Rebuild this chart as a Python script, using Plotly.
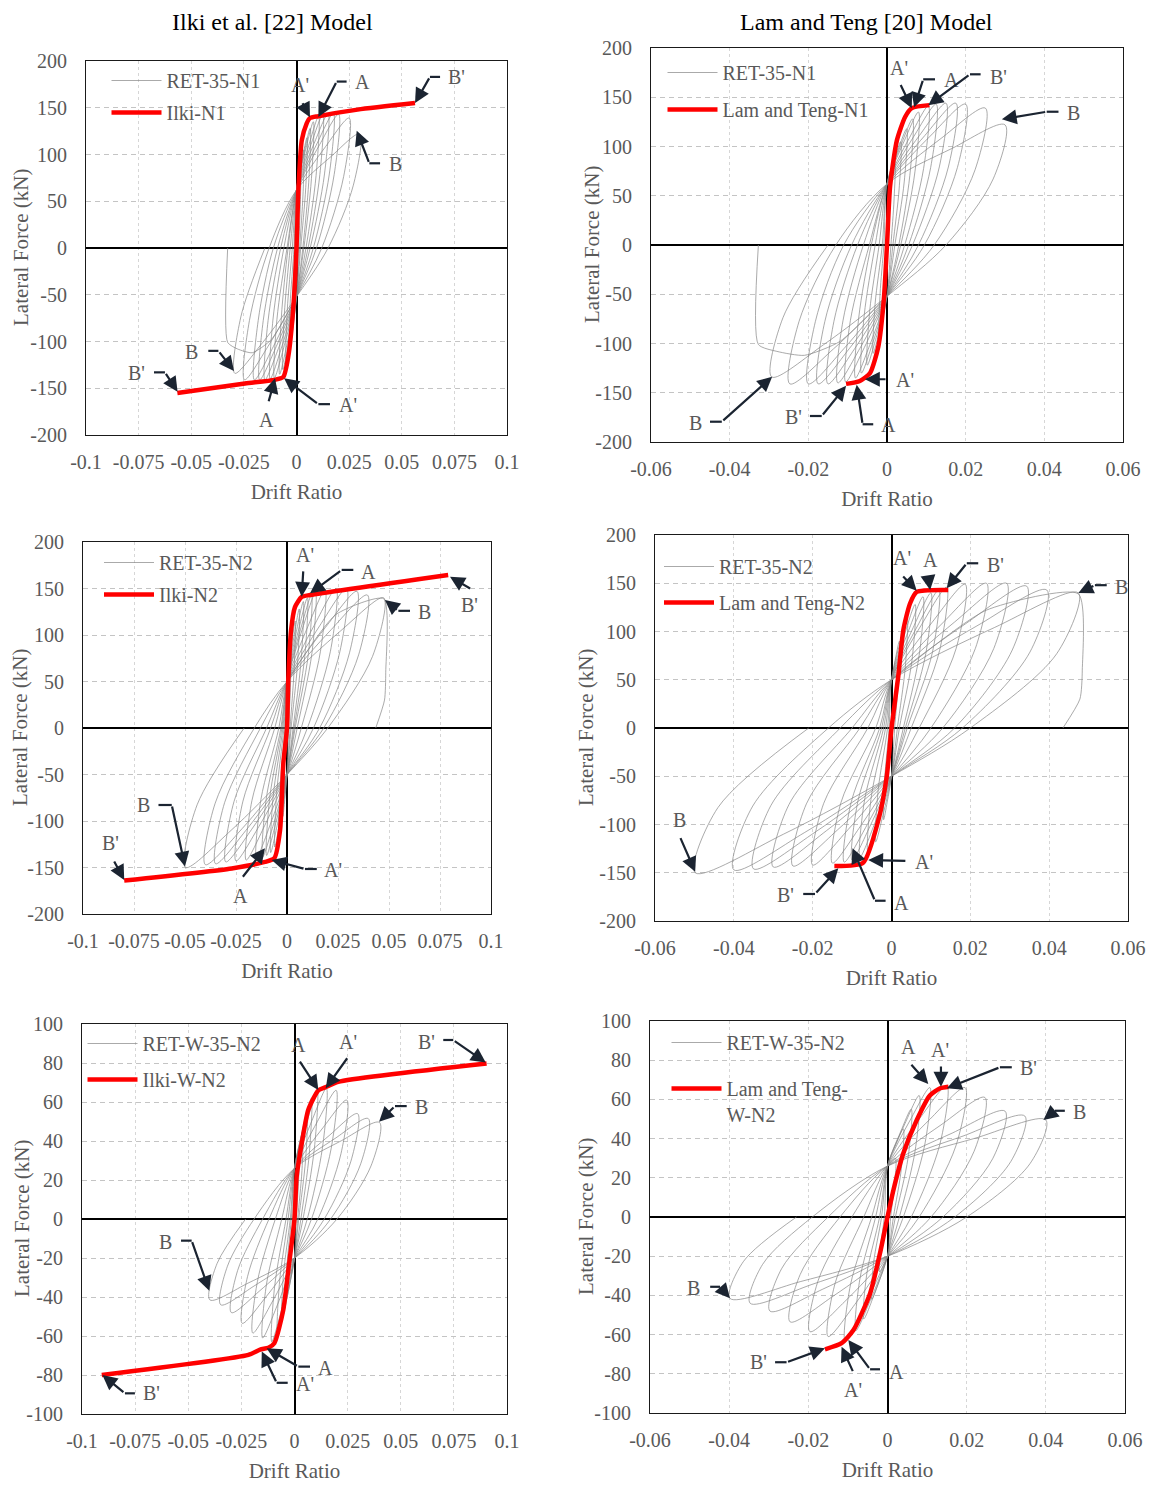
import plotly.graph_objects as go

W, H = 1153, 1486
FONT = "Liberation Serif"
GRAY_TXT = "#595959"
ARROW = "#1b2431"

# ---------------- experimental data (key points of each cycle) ----------------
# RET-35-N1 (panels 1 and 2)
n1_pos_drift = [0.002, 0.0035, 0.005, 0.0065, 0.008, 0.0105, 0.0125, 0.015, 0.0175, 0.020, 0.025, 0.030]
n1_pos_force = [85, 105, 118, 128, 135, 141, 143, 144, 144, 143, 139, 122]
n1_pos_zero = [0.001, 0.0015, 0.002, 0.003, 0.0035, 0.0045, 0.0055, 0.0065, 0.008, 0.0095, 0.012, 0.015]
n1_neg_drift = [-0.002, -0.0035, -0.005, -0.0065, -0.008, -0.0105, -0.0125, -0.015, -0.0175, -0.020, -0.0247, -0.0293]
n1_neg_force = [-90, -110, -122, -130, -135, -139, -140, -141, -141, -141, -141, -134]
n1_neg_zero = [-0.0008, -0.0012, -0.002, -0.003, -0.004, -0.0045, -0.006, -0.0075, -0.009, -0.011, -0.013, -0.015]
n1_pinch = [62, -52]
n1_tail_drift = [0.0, -0.012, -0.021, -0.028, -0.0327, -0.0327]
n1_tail_force = [-52, -98, -112, -108, -101, 0]

# RET-35-N2 (panels 3 and 4)
n2_pos_drift = [0.002, 0.004, 0.006, 0.008, 0.010, 0.012, 0.014, 0.0187, 0.0241, 0.0292, 0.0343, 0.0394, 0.0474]
n2_pos_force = [90, 115, 128, 136, 140, 143, 146, 149, 150, 150, 147, 143, 140]
n2_pos_zero = [0.0008, 0.0015, 0.002, 0.003, 0.0035, 0.004, 0.005, 0.007, 0.010, 0.013, 0.016, 0.018, 0.020]
n2_neg_drift = [-0.002, -0.004, -0.006, -0.008, -0.010, -0.012, -0.015, -0.020, -0.025, -0.030, -0.035, -0.040, -0.0498]
n2_neg_force = [-95, -118, -128, -134, -137, -139, -140, -142, -143, -144, -146, -147, -150]
n2_neg_zero = [-0.0006, -0.001, -0.0015, -0.002, -0.0025, -0.003, -0.004, -0.006, -0.008, -0.010, -0.013, -0.016, -0.021]
n2_pinch = [50, -50]
n2_tail_drift = [0.0, 0.024, 0.0474, 0.0484, 0.0478, 0.0435]
n2_tail_force = [50, 122, 139, 60, 30, 0]

# RET-W-35-N2 (panels 5 and 6)
w2_pos_drift = [0.002, 0.004, 0.006, 0.008, 0.0107, 0.015, 0.0196, 0.0246, 0.0297, 0.0347, 0.040]
w2_pos_force = [30, 45, 55, 62, 66, 67, 66, 61, 54, 51.5, 49.5]
w2_pos_zero = [0.0008, 0.0015, 0.002, 0.003, 0.004, 0.006, 0.008, 0.011, 0.014, 0.017, 0.020]
w2_neg_drift = [-0.002, -0.004, -0.006, -0.008, -0.0107, -0.015, -0.0196, -0.0246, -0.0297, -0.0347, -0.0398]
w2_neg_force = [-28, -42, -52, -58, -63, -61, -58.5, -53.5, -48, -44, -41.5]
w2_neg_zero = [-0.0008, -0.0015, -0.002, -0.003, -0.004, -0.006, -0.009, -0.012, -0.015, -0.019, -0.023]
w2_pinch = [26, -20]
w2_tail_drift = []
w2_tail_force = []

# ---------------- model curves ----------------
ilki_n1_drift = [-0.0566, -0.0245, -0.0105, -0.0063, -0.0039, -0.0015, 0.0, 0.0009, 0.0025, 0.0048, 0.0064, 0.0104, 0.029, 0.0563]
ilki_n1_force = [-155, -145, -141, -138, -116, -63, 0, 62, 115, 133, 139, 141, 148, 155]

lt_n1_drift = [-0.0104, -0.0069, -0.0043, -0.0022, -0.0008, 0.0, 0.0008, 0.0025, 0.0046, 0.0063, 0.0108]
lt_n1_force = [-141, -138, -130, -103, -55, 0, 60, 106, 130, 139, 142]

ilki_n2_drift = [-0.0798, -0.0271, -0.0108, -0.0062, -0.0034, -0.0018, 0.0, 0.0006, 0.002, 0.0039, 0.0072, 0.0113, 0.079]
ilki_n2_force = [-164, -151, -144, -140, -110, -38, 0, 50, 105, 130, 141, 143, 164.5]

lt_n2_drift = [-0.0145, -0.0072, -0.0033, -0.0012, 0.0, 0.0017, 0.003, 0.0047, 0.0064, 0.0144]
lt_n2_force = [-143, -139.6, -95, -50, 0, 53, 101.5, 129, 141, 143]

ilki_w2_drift = [-0.0907, -0.0217, -0.0162, -0.0123, -0.0095, -0.0053, -0.0029, 0.0, 0.001, 0.0034, 0.0065, 0.0112, 0.0144, 0.0206, 0.0904]
ilki_w2_force = [-80, -69.7, -67, -66, -63.7, -46.7, -26, 0, 21.7, 38.8, 56, 66, 67.5, 70.4, 79.8]

lt_w2_drift = [-0.0158, -0.0116, -0.0086, -0.0044, -0.0019, 0.0, 0.0015, 0.004, 0.0074, 0.0107, 0.0133, 0.0154]
lt_w2_force = [-67.5, -64.4, -57.7, -39, -18.5, 0, 13.8, 32.5, 49.5, 62, 65.7, 66.5]

# ---------------- tick labels ----------------
ilki_xticks = [-0.1, -0.075, -0.05, -0.025, 0, 0.025, 0.05, 0.075, 0.1]
ilki_xtext = ["-0.1", "-0.075", "-0.05", "-0.025", "0", "0.025", "0.05", "0.075", "0.1"]
lt_xticks = [-0.06, -0.04, -0.02, 0, 0.02, 0.04, 0.06]
lt_xtext = ["-0.06", "-0.04", "-0.02", "0", "0.02", "0.04", "0.06"]
y200_ticks = [-200, -150, -100, -50, 0, 50, 100, 150, 200]
y100_ticks = [-100, -80, -60, -40, -20, 0, 20, 40, 60, 80, 100]

# ---------------- annotation labels (label, text x, text y, stub x0, stub x1, stub y, tip x, tip y) ----------------
labels_1 = [("A'", 0.0017, 174, 0.0025, 0.0025, 156.5, 0.0064, 139.8),
            ("A", 0.0314, 178, 0.0238, 0.0191, 178, 0.0104, 140),
            ("B'", 0.0761, 183, 0.0682, 0.0634, 183, 0.0563, 155),
            ("B", 0.0468, 90, 0.0397, 0.0346, 90.6, 0.0286, 125.5),
            ("B", -0.0498, -111, -0.0419, -0.0371, -110, -0.0297, -131.5),
            ("B'", -0.0762, -134, -0.0677, -0.0625, -133, -0.0565, -153.7),
            ("A", -0.0142, -184, -0.0134, -0.0134, -165.5, -0.0102, -139.4),
            ("A'", 0.0246, -168, 0.0159, 0.0104, -167, -0.0059, -139.4)]
labels_2 = [("A'", 0.0031, 179.4, 0.0033, 0.0033, 164, 0.0063, 138.8),
            ("A", 0.0164, 167.5, 0.0122, 0.0092, 168.2, 0.0069, 139.8),
            ("B'", 0.0283, 171, 0.0238, 0.0211, 173.3, 0.0105, 142),
            ("B", 0.0474, 133.7, 0.0436, 0.0406, 135.3, 0.0292, 127.6),
            ("A'", 0.0046, -137, 0.0, 0.0, -136.3, -0.0056, -136.3),
            ("A", 0.0003, -182.7, -0.0035, -0.0062, -182, -0.0077, -142),
            ("B'", -0.0238, -174.3, -0.0196, -0.0166, -173.6, -0.0104, -143),
            ("B", -0.0488, -181, -0.045, -0.042, -179.4, -0.0292, -133.7)]
labels_3 = [("A'", 0.0088, 186, 0.008, 0.008, 170, 0.0072, 141),
            ("A", 0.0399, 168, 0.0325, 0.0268, 170, 0.0113, 144.8),
            ("B'", 0.0897, 132, 0.0905, 0.0905, 149, 0.0799, 162.7),
            ("B", 0.0676, 125, 0.0603, 0.0546, 126, 0.048, 137.6),
            ("B", -0.0704, -82.8, -0.063, -0.0565, -82.8, -0.05, -149),
            ("B'", -0.0863, -124, -0.0851, -0.0851, -142, -0.0798, -163.4),
            ("A", -0.023, -181, -0.0222, -0.0222, -161.6, -0.0108, -129.4),
            ("A'", 0.0227, -152.7, 0.0146, 0.0088, -151.6, -0.0075, -142)]
labels_4 = [("A'", 0.0026, 175.8, 0.0026, 0.0026, 158.5, 0.0064, 142.3),
            ("A", 0.010, 174, 0.0093, 0.0093, 156.8, 0.0098, 143),
            ("B'", 0.0263, 169, 0.022, 0.0191, 170.7, 0.014, 144.8),
            ("B", 0.0584, 146.5, 0.0546, 0.0516, 148, 0.0474, 140),
            ("B", -0.0537, -95.3, -0.0537, -0.0537, -112.6, -0.0498, -149),
            ("A'", 0.0083, -138.5, 0.0039, 0.0039, -137.8, -0.0059, -136.8),
            ("A", 0.0026, -181, -0.0015, -0.0042, -179, -0.0099, -124.7),
            ("B'", -0.027, -173, -0.0224, -0.0194, -172, -0.0135, -145.4)]
labels_5 = [("A", 0.0021, 89.2, 0.0021, 0.0021, 81.5, 0.0112, 66.2),
            ("A'", 0.0253, 91, 0.0253, 0.0253, 83.2, 0.0147, 67),
            ("B'", 0.0622, 91, 0.070, 0.0747, 91.8, 0.090, 80.2),
            ("B", 0.0598, 57.6, 0.0528, 0.0473, 57.9, 0.0398, 49.9),
            ("B", -0.0609, -11.6, -0.0534, -0.0484, -11.1, -0.0401, -36.8),
            ("B'", -0.0672, -89.4, -0.0751, -0.0798, -89.4, -0.0904, -80),
            ("A", 0.0144, -76.6, 0.0073, 0.0018, -75.7, -0.0131, -66.3),
            ("A'", 0.0049, -84.6, -0.0032, -0.0084, -84, -0.0154, -68)]
labels_6 = [("A", 0.0053, 86.6, 0.0057, 0.0057, 78.4, 0.0103, 67.9),
            ("A'", 0.0133, 85.2, 0.0135, 0.0135, 77.6, 0.0135, 66.5),
            ("B'", 0.0356, 75.9, 0.0314, 0.0284, 76.4, 0.015, 65.7),
            ("B", 0.0486, 53.7, 0.0448, 0.0423, 54.2, 0.0394, 49.5),
            ("B", -0.0489, -36, -0.0448, -0.0423, -35.6, -0.0398, -41.5),
            ("B'", -0.0326, -73.8, -0.0284, -0.0255, -74.1, -0.0158, -67),
            ("A'", -0.0086, -88.3, -0.0086, -0.0086, -79.4, -0.0116, -66.2),
            ("A", 0.0023, -78.9, -0.0019, -0.0044, -77.7, -0.0099, -62.8)]

# ---------------- panel layout (pixel boxes: left, top, right, bottom) ----------------
panels = [
    dict(box=(86, 61, 507, 435), xr=[-0.1, 0.1], xt=(ilki_xticks, ilki_xtext), yr=[-200, 200], yt=y200_ticks,
         test="RET-35-N1", model="Ilki-N1", exp="n1", md=(ilki_n1_drift, ilki_n1_force), labels=labels_1,
         leg=(106.5, 61), gap=3, ytitle_x=21),
    dict(box=(651, 48, 1123, 442), xr=[-0.06, 0.06], xt=(lt_xticks, lt_xtext), yr=[-200, 200], yt=y200_ticks,
         test="RET-35-N1", model="Lam and Teng-N1", exp="n1", md=(lt_n1_drift, lt_n1_force), labels=labels_2,
         leg=(662.5, 53), gap=8, ytitle_x=592),
    dict(box=(83, 542, 491, 914), xr=[-0.1, 0.1], xt=(ilki_xticks, ilki_xtext), yr=[-200, 200], yt=y200_ticks,
         test="RET-35-N2", model="Ilki-N2", exp="n2", md=(ilki_n2_drift, ilki_n2_force), labels=labels_3,
         leg=(99, 543), gap=3, ytitle_x=20),
    dict(box=(655, 535, 1128, 921), xr=[-0.06, 0.06], xt=(lt_xticks, lt_xtext), yr=[-200, 200], yt=y200_ticks,
         test="RET-35-N2", model="Lam and Teng-N2", exp="n2", md=(lt_n2_drift, lt_n2_force), labels=labels_4,
         leg=(659, 547), gap=7, ytitle_x=586),
    dict(box=(82, 1024, 507, 1414), xr=[-0.1, 0.1], xt=(ilki_xticks, ilki_xtext), yr=[-100, 100], yt=y100_ticks,
         test="RET-W-35-N2", model="Ilki-W-N2", exp="w2", md=(ilki_w2_drift, ilki_w2_force), labels=labels_5,
         leg=(82.5, 1024), gap=7, ytitle_x=22),
    dict(box=(650, 1021, 1125, 1413), xr=[-0.06, 0.06], xt=(lt_xticks, lt_xtext), yr=[-100, 100], yt=y100_ticks,
         test="RET-W-35-N2", model="Lam and Teng-<br>W-N2", exp="w2", md=(lt_w2_drift, lt_w2_force), labels=labels_6,
         leg=(666.5, 1023), gap=17, ytitle_x=586),
]

experiments = {
    "n1": (n1_pos_drift, n1_pos_force, n1_pos_zero, n1_neg_drift, n1_neg_force, n1_neg_zero, n1_pinch, n1_tail_drift, n1_tail_force),
    "n2": (n2_pos_drift, n2_pos_force, n2_pos_zero, n2_neg_drift, n2_neg_force, n2_neg_zero, n2_pinch, n2_tail_drift, n2_tail_force),
    "w2": (w2_pos_drift, w2_pos_force, w2_pos_zero, w2_neg_drift, w2_neg_force, w2_neg_zero, w2_pinch, w2_tail_drift, w2_tail_force),
}


def hysteresis(pd_, pf, pz, nd, nf, nz, pinch):
    """Chain the cycle key points (pinch -> peak -> zero crossing) into one path."""
    ph, pl = pinch
    xs, ys = [], []
    for a, fa, za, b, fb, zb in zip(pd_, pf, pz, nd, nf, nz):
        xs += [0.0, 0.55 * a, a, za + 0.8 * (a - za), za, 0.0, 0.55 * b, b, zb + 0.8 * (b - zb), zb]
        ys += [ph, ph + 0.6 * (fa - ph), fa, 0.55 * fa, 0.0, pl, pl + 0.6 * (fb - pl), fb, 0.55 * fb, 0.0]
    return xs, ys


fig = go.Figure()
annotations = []
shapes = []
layout = {}

for i, p in enumerate(panels, start=1):
    sfx = "" if i == 1 else str(i)
    xa, ya = "x" + sfx, "y" + sfx
    legname = "legend" + sfx
    l, t, r, b = p["box"]
    pd_, pf, pz, nd, nf, nz, pinch, tdr, tfr = experiments[p["exp"]]
    hx, hy = hysteresis(pd_, pf, pz, nd, nf, nz, pinch)

    fig.add_trace(go.Scatter(x=hx, y=hy, mode="lines", name=p["test"], xaxis=xa, yaxis=ya,
                             legend=legname, legendgroup=f"exp{i}",
                             line=dict(color="#858585", width=0.7, shape="spline", smoothing=0.9),
                             hoverinfo="skip"))
    if tdr:
        fig.add_trace(go.Scatter(x=tdr, y=tfr, mode="lines", showlegend=False, xaxis=xa, yaxis=ya,
                                 legend=legname, legendgroup=f"exp{i}",
                                 line=dict(color="#858585", width=0.7, shape="spline", smoothing=0.6),
                                 hoverinfo="skip"))
    fig.add_trace(go.Scatter(x=p["md"][0], y=p["md"][1], mode="lines", name=p["model"], xaxis=xa, yaxis=ya,
                             legend=legname, legendgroup=f"mod{i}",
                             line=dict(color="#ff0000", width=4.5, shape="spline", smoothing=0.6)))

    common = dict(showline=True, mirror=True, linecolor="#1a1a1a", linewidth=1, automargin=False,
                  showgrid=True, gridwidth=1, zeroline=True, zerolinecolor="#000000", zerolinewidth=1.6,
                  ticks="", tickfont=dict(family=FONT, size=20, color=GRAY_TXT), fixedrange=True)
    layout["xaxis" + sfx] = dict(common, domain=[l / W, r / W], anchor=ya, range=p["xr"],
                                 tickmode="array", tickvals=p["xt"][0], ticktext=p["xt"][1],
                                 gridcolor="#d6d6d6", griddash="3px,3px", ticklabelstandoff=9,
                                 title=dict(text="Drift Ratio", font=dict(family=FONT, size=21, color=GRAY_TXT), standoff=12))
    layout["yaxis" + sfx] = dict(common, domain=[1 - b / H, 1 - t / H], anchor=xa, range=p["yr"],
                                 tickmode="array", tickvals=p["yt"], ticktext=[str(v) for v in p["yt"]],
                                 gridcolor="#c4c4c4", griddash="5px,4px", ticklabelstandoff=14)
    # y-axis title placed as rotated text beside the tick labels
    annotations.append(dict(x=p["ytitle_x"] / W, y=1 - ((t + b) / 2) / H, xref="paper", yref="paper",
                            text="Lateral Force (kN)", textangle=-90, showarrow=False,
                            xanchor="center", yanchor="middle",
                            font=dict(family=FONT, size=21, color=GRAY_TXT)))
    lx, ly = p["leg"]
    layout[legname] = dict(x=lx / W, y=1 - ly / H, xanchor="left", yanchor="top", bgcolor="rgba(0,0,0,0)",
                           font=dict(family=FONT, size=20, color=GRAY_TXT), itemwidth=50,
                           tracegroupgap=p["gap"], traceorder="grouped", valign="top")

    for lab, tx, ty, sx0, sx1, sy, px, py in p["labels"]:
        annotations.append(dict(x=tx, y=ty, xref=xa, yref=ya, text=lab, showarrow=False,
                                font=dict(family=FONT, size=20, color=GRAY_TXT)))
        if sx0 != sx1:
            shapes.append(dict(type="line", xref=xa, yref=ya, x0=sx0, x1=sx1, y0=sy, y1=sy,
                               line=dict(color=ARROW, width=2.2)))
        annotations.append(dict(x=px, y=py, xref=xa, yref=ya, ax=sx1, ay=sy, axref=xa, ayref=ya,
                                text="", showarrow=True, arrowhead=2, arrowsize=1.35, arrowwidth=2.2,
                                arrowcolor=ARROW, standoff=0, startstandoff=0))

annotations.append(dict(x=272 / W, y=1 - 22 / H, xref="paper", yref="paper", text="Ilki et al. [22] Model",
                        showarrow=False, xanchor="center", yanchor="middle",
                        font=dict(family=FONT, size=24, color="#000000")))
annotations.append(dict(x=866 / W, y=1 - 22 / H, xref="paper", yref="paper", text="Lam and Teng [20] Model",
                        showarrow=False, xanchor="center", yanchor="middle",
                        font=dict(family=FONT, size=24, color="#000000")))

fig.update_layout(width=W, height=H, margin=dict(l=0, r=0, t=0, b=0, autoexpand=False), plot_bgcolor="white",
                  paper_bgcolor="white", annotations=annotations, shapes=shapes, **layout)

fig.write_html("out.html", config={"displayModeBar": False},
               post_script="document.body.style.margin='0';document.body.style.overflow='hidden';")
